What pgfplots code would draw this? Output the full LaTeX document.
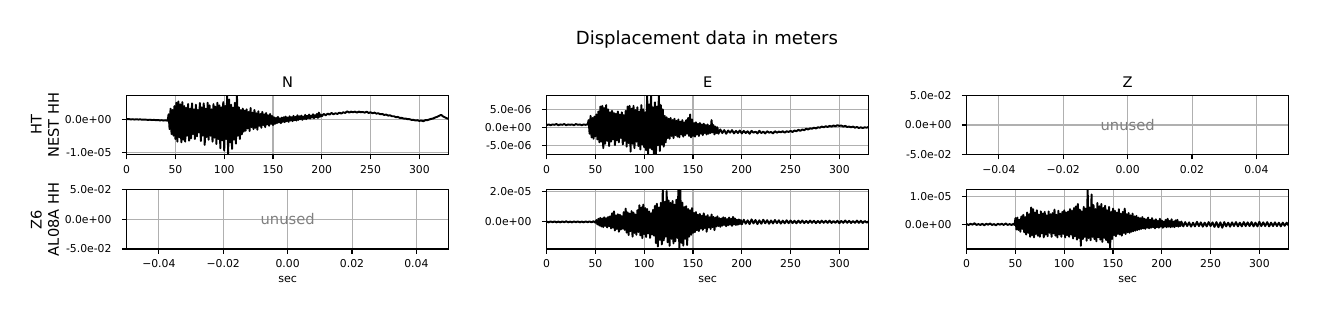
\documentclass[border=0pt]{standalone}
\usepackage{fontspec}
\setmainfont{DejaVu Sans}
\usepackage{pgfplots}
\pgfplotsset{compat=1.18}
\definecolor{gridgray}{HTML}{B0B0B0}
\definecolor{unusedgray}{HTML}{808080}
\pgfplotsset{
  seis/.style={
    scale only axis, width=231.8pt, height=42.5pt, anchor=south west,
    axis line style={line width=0.8pt},
    tick align=outside, major tick length=3.5pt,
    every tick/.style={line width=0.8pt, black},
    tick pos=left,
    grid=major, major grid style={line width=0.75pt, gridgray},
    scaled ticks=false,
    xticklabel style={font=\fontsize{7.8}{9}\selectfont, anchor=base, yshift=-10pt, inner sep=0pt},
    yticklabel style={font=\fontsize{7.8}{9}\selectfont, anchor=east, xshift=-7.2pt, inner sep=0pt},
    title style={font=\fontsize{10.5}{12}\selectfont, at={(0.5,1)}, anchor=base, yshift=-0.5pt, inner sep=0pt},
    xlabel style={font=\fontsize{8}{9}\selectfont, at={(axis description cs:0.5,0)}, anchor=base, yshift=-24pt, inner sep=0pt},
    ylabel style={font=\fontsize{10.5}{12.4}\selectfont, align=center, at={(axis description cs:-0.2537,0.5)}, anchor=center, rotate=0, inner sep=0pt},
    cycle list={{black, mark=none}},
    every axis plot post/.append style={black, line width=1.4pt, line join=round, mark=none},
  },
  wave/.style={seis, xmin=0, xmax=330, xtick={0,50,100,150,200,250,300}, xticklabels={0,50,100,150,200,250,300}},
  empty/.style={seis, xmin=-0.05, xmax=0.05, ymin=-0.05, ymax=0.05,
    xtick={-0.04,-0.02,0,0.02,0.04}, xticklabels={−0.04,−0.02,0.00,0.02,0.04},
    ytick={-0.05,0,0.05}, yticklabels={-5.0e-02,0.0e+00,5.0e-02}},
}
\begin{document}
\begin{tikzpicture}
\path[use as bounding box] (0,0) rectangle (948.96pt,228.24pt);
\node[font=\fontsize{13}{15}\selectfont, anchor=base, inner sep=0pt] at (509.0pt,196.3pt) {Displacement data in meters};

% Row 1, N
\begin{axis}[wave, at={(91.2pt,117pt)}, ymin=-10.7, ymax=7.2, ytick={-10,0}, yticklabels={-1.0e-05,0.0e+00}, title={N}, ylabel={HT\\NEST HH}]
\addplot coordinates {(0,0.0)(2,0.05)(4,-0.05)(6,0.0)(8,-0.1)(10,0.0)(12,-0.1)(14,-0.05)(16,-0.15)(18,-0.1)(20,-0.15)(22,-0.2)(24,-0.15)(26,-0.25)(28,-0.2)(30,-0.3)(32,-0.25)(34,-0.35)(36,-0.3)(38,-0.4)(40,-0.35)(42,-0.45)
(43,1.5)(44,-3.0)(45,3.2)(46,-4.5)(47,2.8)(48,-5.0)(49,4.0)(50,-6.0)(51,5.0)(52,-6.8)(53,5.4)(54,-5.5)(55,4.5)(56,-7.0)(57,5.2)(58,-6.2)(59,4.0)(60,-6.8)(61,3.5)(62,-5.0)(63,4.6)(64,-6.5)(65,3.2)(66,-5.8)(67,4.8)(68,-4.5)(69,3.0)(70,-6.0)(71,4.4)(72,-5.2)(73,2.8)(74,-4.0)(75,4.9)(76,-6.6)(77,3.6)(78,-5.0)(79,4.8)(80,-7.8)(81,3.2)(82,-5.4)(83,5.0)(84,-6.2)(85,4.2)(86,-5.0)(87,3.0)(88,-6.8)(89,4.6)(90,-5.6)(91,3.8)(92,-7.5)(93,5.0)(94,-6.0)(95,4.2)(96,-8.8)(97,3.6)(98,-6.4)(99,5.2)(100,-9.5)(101,4.0)(102,-6.0)(103,7.5)(104,-10.8)(105,6.0)(106,-7.0)(107,4.4)(108,-9.0)(109,3.5)(110,-6.2)(111,5.0)(112,-7.4)(113,7.8)(114,-5.0)(115,3.6)(116,-6.0)(117,2.8)(118,-4.6)(119,3.2)(120,-3.8)
(121,2.6)(122,-3.5)(123,3.0)(124,-2.8)(125,2.2)(126,-3.6)(127,3.4)(128,-2.4)(129,2.0)(130,-3.0)(131,2.8)(132,-2.6)(133,1.8)(134,-3.2)(135,2.4)(136,-2.0)(137,1.6)(138,-2.6)(139,2.2)(140,-1.8)(141,1.5)(142,-2.4)(143,1.9)(144,-1.6)(145,1.2)(146,-2.0)(147,1.6)(148,-1.4)(149,1.0)(150,-1.8)
(151,0.6)(152,-1.4)(153,0.4)(154,-1.2)(155,0.7)(156,-1.0)(157,0.3)(158,-1.2)(159,0.5)(160,-0.8)(161,0.6)(162,-0.9)(163,0.8)(164,-0.6)(165,0.5)(166,-0.8)(167,0.9)(168,-0.4)(169,0.6)(170,-0.6)(171,1.0)(172,-0.3)(173,0.7)(174,-0.4)(175,1.2)(176,-0.2)(177,0.9)(178,0.0)(179,1.1)(180,-0.2)(181,0.8)(182,0.1)(183,1.3)(184,0.0)(185,1.0)(186,0.3)(187,1.4)(188,0.2)(189,1.1)(190,0.5)(191,1.5)(192,0.3)(193,1.2)(194,0.6)(195,1.6)(196,0.4)(197,2.0)(198,0.7)(199,1.4)(200,0.9)
(202,1.6)(204,1.2)(206,1.7)(208,1.4)(210,1.9)(212,1.5)(214,1.8)(216,1.6)(218,2.0)(220,1.7)(222,2.1)(224,1.9)(226,2.4)(228,2.0)(230,2.3)(232,2.1)(234,2.3)(236,2.0)(238,2.3)(240,2.1)(242,2.2)(244,2.0)(246,2.3)(248,1.9)(250,2.1)
(252,1.8)(254,2.0)(256,1.7)(258,1.8)(260,1.5)(262,1.6)(264,1.3)(266,1.4)(268,1.1)(270,1.2)(272,0.9)(274,0.9)(276,0.6)(278,0.7)(280,0.4)(282,0.4)(284,0.2)(286,0.2)(288,0.0)(290,0.0)(292,-0.2)(294,-0.2)(296,-0.4)(298,-0.3)(300,-0.5)(302,-0.4)(304,-0.6)(306,-0.3)(308,-0.3)(310,-0.1)(312,0.1)(314,0.2)(316,0.5)(318,0.7)(320,1.0)(322,1.3)(323,1.2)(324,0.9)(326,0.6)(328,0.3)(330,0.1)};
\end{axis}

% Row 1, E
\begin{axis}[wave, at={(393.6pt,117pt)}, ymin=-7.6, ymax=8.9, ytick={-5,0,5}, yticklabels={-5.0e-06,0.0e+00,5.0e-06}, title={E}]
\addplot coordinates {(0,0.6)(2,0.8)(4,0.6)(6,0.8)(8,0.7)(10,0.9)(12,0.6)(14,0.8)(16,0.7)(18,0.9)(20,0.6)(22,0.8)(24,0.7)(26,0.8)(28,0.6)(30,0.9)(32,0.7)(34,0.8)(36,0.6)(38,0.8)(40,0.7)(42,0.8)
(43,2.0)(44,-1.8)(45,3.2)(46,-2.8)(47,2.6)(48,-3.2)(49,3.0)(50,-2.5)(51,3.6)(52,-3.4)(53,4.4)(54,-4.2)(55,5.8)(56,-4.0)(57,6.0)(58,-5.8)(59,5.4)(60,-4.6)(61,6.2)(62,-3.8)(63,5.0)(64,-5.2)(65,4.2)(66,-4.0)(67,4.6)(68,-3.4)(69,4.0)(70,-5.0)(71,3.8)(72,-3.6)(73,4.4)(74,-4.2)(75,3.6)(76,-3.0)(77,4.2)(78,-4.8)(79,3.4)(80,-3.8)(81,4.6)(82,-5.4)(83,5.8)(84,-4.4)(85,6.0)(86,-6.8)(87,5.2)(88,-4.6)(89,6.0)(90,-5.8)(91,4.8)(92,-4.0)(93,5.6)(94,-5.2)(95,4.4)(96,-6.2)(97,6.2)(98,-4.8)(99,5.0)(100,-5.6)(101,4.2)(102,-6.4)(103,9.5)(104,-7.8)(105,6.4)(106,-5.8)(107,9.5)(108,-6.2)(109,5.6)(110,-7.8)(111,7.0)(112,-7.8)(113,5.8)(114,-5.0)(115,9.5)(116,-6.6)(117,6.2)(118,-4.8)(119,5.0)(120,-5.4)(121,3.2)(122,-4.2)(123,2.8)(124,-3.0)(125,2.4)
(126,-3.2)(127,2.6)(128,-2.4)(129,2.0)(130,-3.0)(131,2.4)(132,-2.2)(133,1.8)(134,-2.6)(135,2.2)(136,-2.8)(137,1.6)(138,-2.0)(139,2.0)(140,-2.6)(141,1.4)(142,-2.2)(143,2.0)(144,-1.8)(145,2.6)(146,-2.4)(147,3.6)(148,-2.8)(149,2.2)(150,-2.4)(151,1.2)(152,-2.6)(153,1.4)(154,-2.0)(155,1.0)(156,-2.4)(157,1.2)(158,-1.8)(159,0.8)(160,-2.2)(161,1.0)(162,-1.6)(163,0.6)(164,-2.0)(165,0.8)(166,-1.8)(167,0.4)(168,-1.6)(169,2.0)(170,-1.4)(171,0.6)(172,-2.0)(173,0.2)(174,-1.6)(175,0.0)
(176,-1.8)(178,-0.6)(180,-1.6)(182,-0.8)(184,-1.8)(186,-0.9)(188,-1.5)(190,-0.8)(192,-1.7)(194,-1.0)(196,-1.6)(198,-0.9)(200,-1.7)(202,-1.0)(204,-1.6)(206,-1.1)(208,-1.8)(210,-1.0)(212,-1.5)(214,-1.2)(216,-1.7)(218,-1.0)(220,-1.6)(222,-1.2)(224,-1.7)(226,-1.1)(228,-1.5)(230,-1.3)(232,-1.7)(234,-1.1)(236,-1.5)(238,-1.2)(240,-1.4)(242,-1.1)(244,-1.5)(246,-1.1)(248,-1.3)(250,-1.0)
(252,-1.3)(254,-0.9)(256,-1.1)(258,-0.7)(260,-1.0)(262,-0.6)(264,-0.8)(266,-0.4)(268,-0.6)(270,-0.3)(272,-0.4)(274,-0.1)(276,-0.3)(278,0.0)(280,-0.1)(282,0.2)(284,0.0)(286,0.3)(288,0.1)(290,0.4)(292,0.2)(294,0.5)(296,0.3)(298,0.6)(300,0.4)(302,0.5)(304,0.2)(306,0.4)(308,0.1)(310,0.2)(312,0.0)(314,0.2)(316,-0.1)(318,0.1)(320,-0.2)(322,0.0)(324,-0.2)(326,0.0)(328,-0.1)(330,0.1)};
\end{axis}

% Row 1, Z (unused)
\begin{axis}[empty, at={(696.0pt,117pt)}, title={Z}]
\node[font=\fontsize{10.6}{12}\selectfont, text=unusedgray, inner sep=0pt] at (axis cs:0,0) {unused};
\end{axis}

% Row 2, N (unused)
\begin{axis}[empty, at={(91.2pt,49pt)}, xlabel={sec}, ylabel={Z6\\AL08A HH}]
\node[font=\fontsize{10.6}{12}\selectfont, text=unusedgray, inner sep=0pt] at (axis cs:0,0) {unused};
\end{axis}

% Row 2, E
\begin{axis}[wave, at={(393.6pt,49pt)}, ymin=-17.6, ymax=20.8, ytick={0,20}, yticklabels={0.0e+00,2.0e-05}, xlabel={sec}]
\addplot coordinates {(0,0.2)(2,-0.3)(4,0.3)(6,-0.2)(8,0.3)(10,-0.3)(12,0.2)(14,-0.3)(16,0.3)(18,-0.2)(20,0.4)(22,-0.3)(24,0.2)(26,-0.3)(28,0.3)(30,-0.2)(32,0.3)(34,-0.3)(36,0.2)(38,-0.3)(40,0.3)(42,-0.2)(44,0.3)(46,-0.3)(48,0.4)(50,-0.5)
(51,1.2)(52,-1.6)(53,2.0)(54,-2.4)(55,2.6)(56,-3.0)(57,2.2)(58,-3.4)(59,3.0)(60,-2.6)(61,2.4)(62,-3.6)(63,3.2)(64,-2.8)(65,3.6)(66,-4.2)(67,5.6)(68,-3.8)(69,6.8)(70,-5.6)(71,4.2)(72,-4.6)(73,5.0)(74,-6.4)(75,4.6)(76,-5.0)(77,3.8)(78,-4.4)(79,6.4)(80,-5.2)(81,8.6)(82,-7.0)(83,6.2)(84,-8.6)(85,5.4)(86,-6.0)(87,7.0)(88,-9.6)(89,6.0)(90,-7.2)(91,4.8)(92,-8.4)(93,7.6)(94,-6.6)(95,10.8)(96,-8.8)(97,9.4)(98,-10.6)(99,11.2)(100,-8.0)(101,9.0)(102,-9.8)(103,8.4)(104,-7.4)(105,6.8)(106,-10.4)(107,5.6)(108,-8.2)(109,7.8)(110,-9.0)(111,10.4)(112,-13.8)(113,11.8)(114,-16.0)(115,9.4)(116,-11.6)(117,12.4)(118,-14.6)(119,20.5)(120,-12.0)(121,13.0)(122,-9.6)(123,20.0)(124,-13.2)(125,14.0)(126,-15.6)(127,12.4)(128,-11.0)(129,13.6)(130,-14.0)(131,11.2)(132,-12.6)(133,14.4)(134,-10.4)(135,22.0)(136,-18.5)(137,21.0)(138,-13.6)(139,12.6)(140,-15.4)(141,9.6)(142,-11.0)(143,10.2)(144,-15.0)(145,8.4)(146,-9.6)(147,7.6)(148,-8.4)(149,9.0)(150,-7.2)
(151,5.8)(152,-6.6)(153,6.4)(154,-5.4)(155,4.6)(156,-6.0)(157,5.2)(158,-4.4)(159,4.0)(160,-5.2)(161,5.6)(162,-4.0)(163,3.6)(164,-6.4)(165,4.4)(166,-3.6)(167,3.0)(168,-4.6)(169,4.8)(170,-3.4)(171,3.2)(172,-5.4)(173,2.8)(174,-3.0)(175,3.6)(176,-2.6)(177,2.4)(178,-3.2)(179,2.2)(180,-2.4)(181,3.0)(182,-2.0)(183,2.6)(184,-2.8)(185,1.8)(186,-2.2)(187,2.8)(188,-1.8)(189,2.0)(190,-2.6)(191,3.2)(192,-1.6)(193,2.2)(194,-2.0)(195,1.4)(196,-1.8)(197,1.6)(198,-1.4)(199,1.2)(200,-1.6)
(202,1.4)(204,-1.2)(206,1.0)(208,-1.4)(210,1.6)(212,-1.0)(214,1.2)(216,-1.4)(218,1.0)(220,-1.2)(222,1.4)(224,-0.9)(226,1.1)(228,-1.2)(230,0.9)(232,-1.0)(234,1.2)(236,-0.8)(238,1.0)(240,-1.1)(242,0.8)(244,-0.9)(246,1.0)(248,-0.8)(250,0.9)(252,-0.8)(254,0.7)(256,-0.9)(258,0.8)(260,-0.7)(262,0.9)(264,-0.8)(266,0.6)(268,-0.7)(270,0.8)(272,-0.6)(274,0.7)(276,-0.8)(278,0.6)(280,-0.7)(282,0.8)(284,-0.6)(286,0.7)(288,-0.6)(290,0.8)(292,-0.7)(294,0.6)(296,-0.6)(298,0.7)(300,-0.8)(302,0.6)(304,-0.6)(306,0.9)(308,-0.6)(310,0.7)(312,-0.7)(314,0.6)(316,-0.6)(318,0.8)(320,-0.6)(322,0.7)(324,-0.7)(326,0.6)(328,-0.5)(330,0.4)};
\end{axis}

% Row 2, Z
\begin{axis}[wave, at={(696.0pt,49pt)}, ymin=-8.7, ymax=12.2, ytick={0,10}, yticklabels={0.0e+00,1.0e-05}, xlabel={sec}]
\addplot coordinates {(0,0.1)(2,-0.2)(4,0.2)(6,-0.1)(8,0.4)(10,-0.2)(12,0.1)(14,-0.2)(16,0.2)(18,-0.3)(20,0.2)(22,-0.1)(24,0.3)(26,-0.2)(28,0.1)(30,-0.3)(32,0.2)(34,-0.1)(36,0.2)(38,-0.2)(40,0.3)(42,-0.2)(44,0.1)(46,-0.2)(48,0.2)(49,-0.2)
(50,2.2)(51,-1.8)(52,2.4)(53,-2.0)(54,1.6)(55,-2.6)(56,2.8)(57,-1.6)(58,3.4)(59,-2.8)(60,2.6)(61,-3.6)(62,4.2)(63,-3.0)(64,3.6)(65,-4.4)(66,6.0)(67,-3.8)(68,5.4)(69,-4.6)(70,4.2)(71,-3.4)(72,5.0)(73,-4.0)(74,3.4)(75,-4.4)(76,4.6)(77,-3.2)(78,3.8)(79,-4.6)(80,4.4)(81,-3.6)(82,3.2)(83,-4.2)(84,4.6)(85,-3.0)(86,3.6)(87,-4.4)(88,4.0)(89,-3.2)(90,5.2)(91,-4.0)(92,3.4)(93,-4.6)(94,4.8)(95,-3.6)(96,3.8)(97,-4.4)(98,4.4)(99,-3.4)(100,5.0)(101,-4.6)(102,4.2)(103,-3.8)(104,4.6)(105,-4.4)(106,5.4)(107,-3.6)(108,4.8)(109,-5.0)(110,5.8)(111,-4.2)(112,6.4)(113,-5.4)(114,7.2)(115,-4.8)(116,5.2)(117,-7.6)(118,4.6)(119,-5.2)(120,6.2)(121,-4.4)(122,5.6)(123,-5.8)(124,12.5)(125,-4.8)(126,6.0)(127,-5.6)(128,10.6)(129,-4.4)(130,6.8)(131,-5.2)(132,5.4)(133,-6.0)(134,7.6)(135,-4.6)(136,6.4)(137,-5.4)(138,7.2)(139,-6.2)(140,5.8)(141,-4.8)(142,6.6)(143,-5.6)(144,5.0)(145,-6.4)(146,6.2)(147,-8.8)(148,4.4)(149,-5.2)(150,5.6)
(151,-3.8)(152,4.8)(153,-4.2)(154,4.2)(155,-3.4)(156,5.4)(157,-3.6)(158,3.8)(159,-4.0)(160,4.4)(161,-3.0)(162,5.6)(163,-3.4)(164,3.6)(165,-2.8)(166,4.0)(167,-3.0)(168,3.2)(169,-2.6)(170,3.8)(171,-2.4)(172,2.8)(173,-2.2)(174,3.0)(175,-2.0)(176,2.4)(177,-1.8)(178,2.2)(179,-1.6)(180,2.6)(181,-1.4)(182,2.0)(183,-1.6)(184,1.8)(185,-1.2)(186,2.4)(187,-1.4)(188,1.6)(189,-1.2)(190,2.2)(191,-1.0)(192,1.4)(193,-1.4)(194,1.8)(195,-1.0)(196,1.2)(197,-1.2)(198,2.0)(199,-0.8)(200,1.4)(201,-1.2)(202,1.0)(203,-0.8)(204,1.6)(205,-1.0)(206,2.0)(207,-0.8)(208,1.2)(209,-1.0)(210,1.8)(211,-0.8)(212,1.0)(213,-1.0)(214,1.4)(215,-0.6)(216,1.6)(217,-0.8)(218,0.8)(219,-0.6)(220,1.0)
(222,-0.7)(224,0.8)(226,-0.6)(228,0.7)(230,-0.8)(232,0.6)(234,-0.7)(236,0.9)(238,-0.6)(240,0.7)(242,-0.8)(244,0.6)(246,-0.7)(248,0.8)(250,-0.6)(252,0.7)(254,-0.9)(256,0.8)(258,-1.0)(260,0.7)(262,-1.2)(264,0.8)(266,-0.7)(268,0.6)(270,-0.8)(272,0.7)(274,-0.6)(276,0.8)(278,-0.7)(280,0.6)(282,-0.7)(284,0.8)(286,-0.6)(288,0.7)(290,-0.6)(292,0.8)(294,-0.7)(296,0.6)(298,-0.7)(300,0.9)(302,-0.6)(304,0.7)(306,-0.6)(308,0.8)(310,-0.7)(312,0.6)(314,-0.6)(316,0.7)(318,-0.6)(320,0.6)(322,-0.7)(324,0.6)(326,-0.5)(328,0.6)(330,-0.4)};
\end{axis}
\end{tikzpicture}
\end{document}
